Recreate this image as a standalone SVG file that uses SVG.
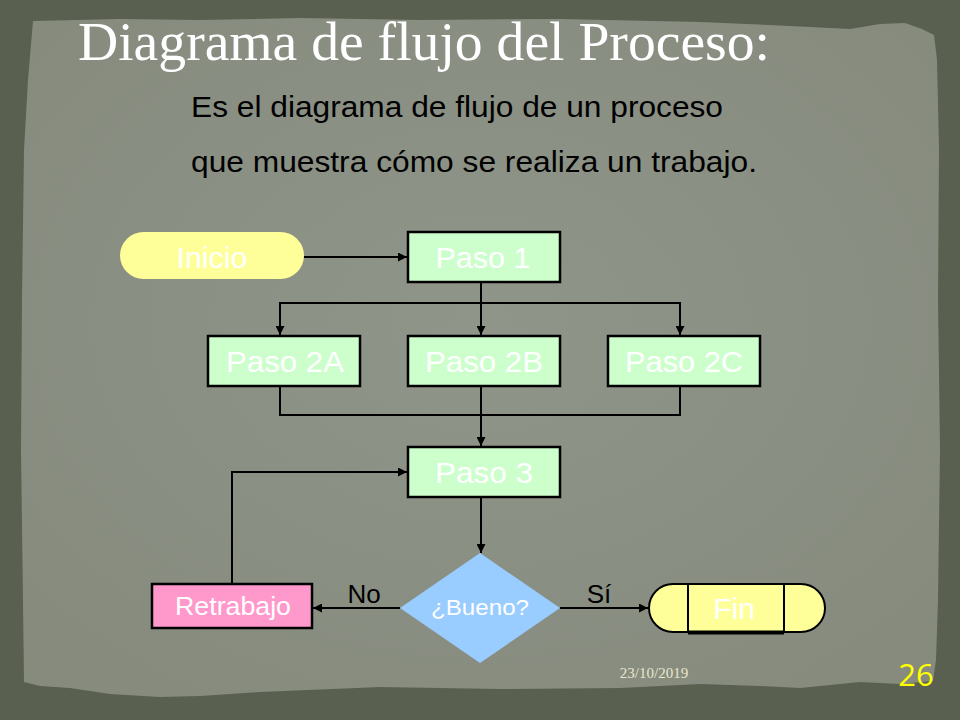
<svg xmlns="http://www.w3.org/2000/svg" width="960" height="720" viewBox="0 0 960 720">
<defs>
<style>
.conn{fill:none;stroke:#000;stroke-width:2}
.box{stroke:#000;stroke-width:2.5}
.green{fill:#ccffcc}
.nt{font-family:"Liberation Sans",Arial,sans-serif;fill:#ffffff;text-anchor:middle}
.lbl{font-family:"Liberation Sans",Arial,sans-serif;fill:#000;font-size:26px;text-anchor:middle}
.sub{font-family:"Liberation Sans",Arial,sans-serif;fill:#000;font-size:29px}
</style>
<marker id="ah" markerUnits="userSpaceOnUse" markerWidth="9" markerHeight="9" refX="9" refY="4.5" orient="auto">
<path d="M0,0 L9,4.5 L0,9 z" fill="#000"/>
</marker>
<radialGradient id="paperg" cx="50%" cy="45%" r="65%">
<stop offset="0" stop-color="#90958a"/>
<stop offset="1" stop-color="#868b7e"/>
</radialGradient>
</defs>
<rect width="960" height="720" fill="#5a604f"/>
<path id="paper" fill="url(#paperg)" d="M33,21 L120,19 L200,20 L300,18 L420,20 L560,19 L700,22 L790,26 L850,29 L880,24 L905,23 L922,29 L934,35 L937,60 L939,150 L938,300 L940,450 L938,600 L936,660 L933,681 L900,684 L860,682 L800,688 L760,686 L700,684 L620,688 L500,689 L380,687 L260,692 L200,696 L160,697 L110,694 L70,688 L40,686 L24,682 L23,600 L21,450 L22,300 L24,150 L28,80 Z"/>
<text x="78" y="60" font-family="'Liberation Serif','Times New Roman',serif" font-size="55" fill="#ffffff" textLength="692" lengthAdjust="spacingAndGlyphs">Diagrama de flujo del Proceso:</text>
<text class="sub" x="191" y="117" textLength="532" lengthAdjust="spacingAndGlyphs">Es el diagrama de flujo de un proceso</text>
<text class="sub" x="191" y="172" textLength="566" lengthAdjust="spacingAndGlyphs">que muestra cómo se realiza un trabajo.</text>
<g id="connectors">
<path class="conn" marker-end="url(#ah)" d="M304,257 H407"/>
<path class="conn" marker-end="url(#ah)" d="M481,282 V335"/>
<path class="conn" marker-end="url(#ah)" d="M481,303 H280 V335"/>
<path class="conn" marker-end="url(#ah)" d="M481,303 H680 V335"/>
<path class="conn" d="M280,386 V415 H680 V386"/>
<path class="conn" marker-end="url(#ah)" d="M481,386 V446"/>
<path class="conn" marker-end="url(#ah)" d="M481,497 V553"/>
<path class="conn" marker-end="url(#ah)" d="M400,608 H313"/>
<path class="conn" marker-end="url(#ah)" d="M232,584 V472 H407"/>
<path class="conn" marker-end="url(#ah)" d="M560,608 H648"/>
</g>
<g id="inicio">
<rect x="120" y="232" width="184" height="47" rx="23.5" fill="#ffff99"/>
<text class="nt" x="212" y="268" font-size="30" textLength="71" lengthAdjust="spacingAndGlyphs">Inicio</text>
</g>
<g id="paso1">
<rect class="box green" x="408" y="232" width="152" height="50"/>
<text class="nt" x="483" y="268" font-size="30" textLength="95" lengthAdjust="spacingAndGlyphs">Paso 1</text>
</g>
<g id="paso2a">
<rect class="box green" x="208" y="336" width="152" height="50"/>
<text class="nt" x="285" y="372" font-size="30" textLength="118" lengthAdjust="spacingAndGlyphs">Paso 2A</text>
</g>
<g id="paso2b">
<rect class="box green" x="408" y="336" width="152" height="50"/>
<text class="nt" x="484" y="372" font-size="30" textLength="118" lengthAdjust="spacingAndGlyphs">Paso 2B</text>
</g>
<g id="paso2c">
<rect class="box green" x="608" y="336" width="152" height="50"/>
<text class="nt" x="684" y="372" font-size="30" textLength="118" lengthAdjust="spacingAndGlyphs">Paso 2C</text>
</g>
<g id="paso3">
<rect class="box green" x="408" y="447" width="152" height="50"/>
<text class="nt" x="484" y="483" font-size="30" textLength="98" lengthAdjust="spacingAndGlyphs">Paso 3</text>
</g>
<g id="bueno">
<polygon points="480,553 560,608 480,663 400,608" fill="#99ccff"/>
<text class="nt" x="480" y="615" font-size="22" textLength="98" lengthAdjust="spacingAndGlyphs">¿Bueno?</text>
</g>
<g id="retrabajo">
<rect class="box" x="152" y="584" width="160" height="44" fill="#ff99cc"/>
<text class="nt" x="233" y="615" font-size="26" textLength="116" lengthAdjust="spacingAndGlyphs">Retrabajo</text>
</g>
<g id="fin">
<rect x="649" y="584" width="176" height="48" rx="24" fill="#ffff99" stroke="#000" stroke-width="2"/>
<path d="M688,584 V633 M784,584 V633" stroke="#000" stroke-width="2" fill="none"/>
<path d="M688,632.5 H784" stroke="#000" stroke-width="4"/>
<text class="nt" x="734" y="619" font-size="30">Fin</text>
</g>
<text class="lbl" x="364" y="603">No</text>
<text class="lbl" x="599" y="603">Sí</text>
<text x="654" y="678" font-family="'Liberation Serif','Times New Roman',serif" font-size="15" fill="#e8e8c8" text-anchor="middle">23/10/2019</text>
<text x="916" y="686" font-family="'Open Sans','Liberation Sans',sans-serif" font-size="31" fill="#ffff00" text-anchor="middle">26</text>
</svg>
